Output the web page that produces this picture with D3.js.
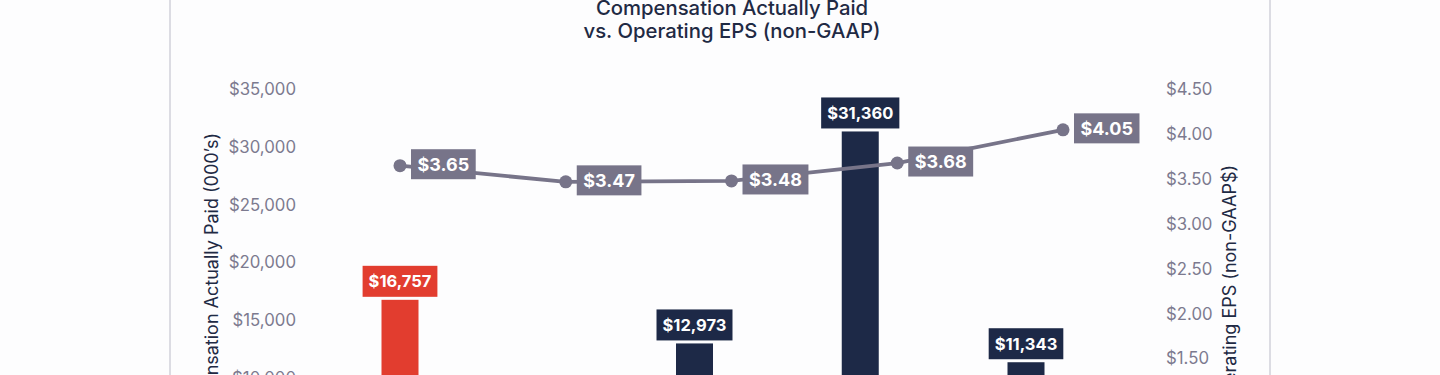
<!DOCTYPE html>
<html>
<head>
<meta charset="utf-8">
<script src="https://cdn.jsdelivr.net/npm/d3@7"></script>
<style>
  html, body { margin: 0; padding: 0; background: #ffffff; overflow: hidden; }
  svg { display: block; }
</style>
</head>
<body>
<svg id="chart" width="1440" height="375"></svg>
<script>
// ---- Data ----
const categories = ["2020", "2021", "2022", "2023", "2024"];
const seriesNames = ["PEO", "Former PEO", "Average Non-PEO NEOs"];
const peoCAP = [null, null, 12973, 31360, 11343];          // navy bars (000's)
const formerPeoCAP = [16757, null, null, null, null];       // red bar (000's)
const avgNeoCAP = [null, null, null, null, null];           // below visible crop, not readable
const operatingEPS = [3.65, 3.47, 3.48, 3.68, 4.05];        // line (non-GAAP $)
const leftTicks = [0, 5000, 10000, 15000, 20000, 25000, 30000, 35000];
const rightTicks = [0, 0.5, 1, 1.5, 2, 2.5, 3, 3.5, 4, 4.5];
const titleLines = ["Compensation Actually Paid", "vs. Operating EPS (non-GAAP)"];
const leftAxisTitle = "Compensation Actually Paid (000’s)";
const rightAxisTitle = "Operating EPS (non-GAAP$)";

// ---- Styles ----
const NAVY = "#1d2947", RED = "#e23d2f", GRAY = "#777489", TICK = "#7c7a8f";
const FONT = "Inter, 'Open Sans', sans-serif";
const seriesColors = [NAVY, RED, "#9a98aa"];
const seriesValues = [peoCAP, formerPeoCAP, avgNeoCAP];

const svg = d3.select("#chart");
svg.append("rect").attr("width", 1440).attr("height", 375).attr("fill", "#fdfdfe");

// card borders
[170, 1270].forEach(x => svg.append("line")
  .attr("x1", x).attr("x2", x).attr("y1", 0).attr("y2", 375)
  .attr("stroke", "#dcdce3").attr("stroke-width", 2));

// scales
const x = d3.scalePoint().domain(categories).range([400, 1063]);
const xSub = d3.scaleBand().domain(seriesNames).range([-55.5, 55.5]).padding(0);
const yL = d3.scaleLinear().domain([0, 35000]).range([493, 89.5]);
const yR = d3.scaleLinear().domain([0, 4.5]).range([493, 89.5]);

// title
const title = svg.append("text").attr("text-anchor", "middle")
  .attr("font-family", FONT).attr("font-size", 20.3).attr("font-weight", 500)
  .attr("fill", "#1f2a44");
title.selectAll("tspan").data(titleLines).join("tspan")
  .attr("x", 732).attr("y", (d, i) => 15 + i * 23).text(d => d);

// axes
const fmtL = d => "$" + d3.format(",")(d);
const fmtR = d => "$" + d3.format(".2f")(d);
const axL = svg.append("g").attr("transform", "translate(296,0)")
  .call(d3.axisLeft(yL).tickValues(leftTicks).tickFormat(fmtL).tickSize(0).tickPadding(0));
const axR = svg.append("g").attr("transform", "translate(1166,0)")
  .call(d3.axisRight(yR).tickValues(rightTicks).tickFormat(fmtR).tickSize(0).tickPadding(0));
[axL, axR].forEach(g => {
  g.select(".domain").remove();
  g.selectAll("text").attr("font-family", FONT).attr("font-size", 16.8)
    .attr("fill", TICK).attr("font-weight", 400);
});

// axis titles
svg.append("text").attr("transform", "translate(212,133) rotate(-90)")
  .attr("text-anchor", "end").attr("dy", "0.35em")
  .attr("font-family", FONT).attr("font-size", 18).attr("fill", "#1f2a44")
  .text(leftAxisTitle);
svg.append("text").attr("transform", "translate(1230,165) rotate(-90)")
  .attr("text-anchor", "end").attr("dy", "0.35em")
  .attr("font-family", FONT).attr("font-size", 18).attr("fill", "#1f2a44")
  .text(rightAxisTitle);

// bars
const barData = [];
seriesNames.forEach((s, si) => categories.forEach((c, ci) => {
  const v = seriesValues[si][ci];
  if (v != null) barData.push({ s, c, v, color: seriesColors[si] });
}));
svg.append("g").selectAll("rect").data(barData).join("rect")
  .attr("x", d => x(d.c) + xSub(d.s))
  .attr("y", d => yL(d.v))
  .attr("width", xSub.bandwidth())
  .attr("height", d => yL(0) - yL(d.v))
  .attr("fill", d => d.color);

// bar labels
const bl = svg.append("g").selectAll("g").data(barData).join("g");
bl.each(function (d) {
  const g = d3.select(this);
  const cx = x(d.c) + xSub(d.s) + xSub.bandwidth() / 2;
  const bottom = yL(d.v) - 3;
  const rect = g.append("rect").attr("fill", d.color);
  const t = g.append("text").attr("x", cx).attr("y", bottom - 15.5)
    .attr("dy", "0.36em").attr("text-anchor", "middle")
    .attr("font-family", FONT).attr("font-size", 16.5).attr("font-weight", 700)
    .attr("fill", "#ffffff").text(fmtL(d.v));
  const w = t.node().getComputedTextLength() + 12;
  rect.attr("x", cx - w / 2).attr("y", bottom - 31).attr("width", w).attr("height", 31);
});

// EPS line
const pts = categories.map((c, i) => ({ c, v: operatingEPS[i] }));
svg.append("path").datum(pts)
  .attr("d", d3.line().x(d => x(d.c)).y(d => yR(d.v)))
  .attr("fill", "none").attr("stroke", GRAY).attr("stroke-width", 3.8);
svg.append("g").selectAll("circle").data(pts).join("circle")
  .attr("cx", d => x(d.c)).attr("cy", d => yR(d.v)).attr("r", 6.5).attr("fill", GRAY);

// EPS labels
const el = svg.append("g").selectAll("g").data(pts).join("g");
el.each(function (d) {
  const g = d3.select(this);
  const left = x(d.c) + 11;
  const cy = yR(d.v) - 1.5;
  const rect = g.append("rect").attr("fill", GRAY);
  const t = g.append("text").attr("y", cy).attr("dy", "0.36em")
    .attr("font-family", FONT).attr("font-size", 18).attr("font-weight", 700)
    .attr("fill", "#ffffff").text(fmtR(d.v));
  const w = t.node().getComputedTextLength() + 13;
  t.attr("x", left + 6.5);
  rect.attr("x", left).attr("y", cy - 15).attr("width", w).attr("height", 30);
});
</script>
</body>
</html>
